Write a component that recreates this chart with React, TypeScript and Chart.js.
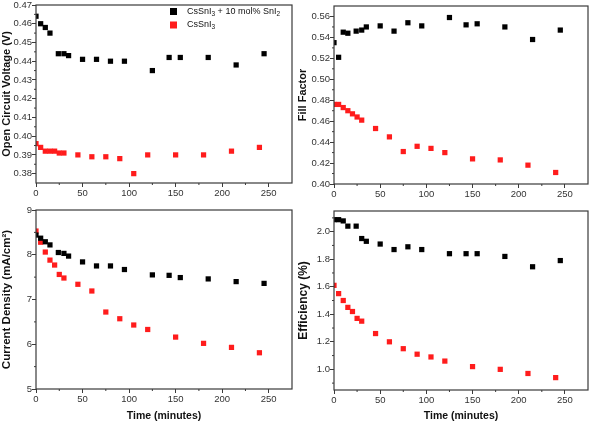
import React, { useEffect, useRef } from "react";
import { Chart, registerables } from "chart.js";

Chart.register(...registerables);

// ---------- data ----------
const timeBlack = [0, 5, 10, 15, 24, 30, 35, 50, 65, 80, 95, 125, 143, 155, 185, 215, 245];
const timeRed = [0, 5, 10, 15, 20, 25, 30, 45, 60, 75, 90, 105, 120, 150, 180, 210, 240];

const vocBlack = [0.464, 0.46, 0.458, 0.455, 0.444, 0.444, 0.443, 0.441, 0.441, 0.44, 0.44, 0.435, 0.442, 0.442, 0.442, 0.438, 0.444];
const vocRed = [0.396, 0.394, 0.392, 0.392, 0.392, 0.391, 0.391, 0.39, 0.389, 0.389, 0.388, 0.38, 0.39, 0.39, 0.39, 0.392, 0.394];

const ffBlack = [0.535, 0.521, 0.545, 0.544, 0.546, 0.547, 0.55, 0.551, 0.546, 0.554, 0.551, 0.559, 0.552, 0.553, 0.55, 0.538, 0.547];
const ffRed = [0.476, 0.476, 0.473, 0.47, 0.467, 0.464, 0.461, 0.453, 0.445, 0.431, 0.436, 0.434, 0.43, 0.424, 0.423, 0.418, 0.411];

const jscBlack = [8.44, 8.37, 8.29, 8.22, 8.05, 8.03, 7.97, 7.84, 7.75, 7.75, 7.67, 7.55, 7.54, 7.49, 7.46, 7.4, 7.36];
const jscRed = [8.53, 8.28, 8.06, 7.88, 7.77, 7.56, 7.48, 7.34, 7.19, 6.72, 6.57, 6.43, 6.33, 6.16, 6.02, 5.93, 5.81];

const effBlack = [2.087, 2.087, 2.078, 2.04, 2.04, 1.95, 1.93, 1.91, 1.87, 1.89, 1.87, 1.84, 1.84, 1.84, 1.82, 1.745, 1.79];
const effRed = [1.61, 1.55, 1.5, 1.45, 1.42, 1.37, 1.35, 1.26, 1.2, 1.15, 1.11, 1.09, 1.06, 1.02, 1.0, 0.97, 0.94];

const xTicks = [0, 50, 100, 150, 200, 250];
const vocTicks = [0.38, 0.39, 0.4, 0.41, 0.42, 0.43, 0.44, 0.45, 0.46, 0.47];
const ffTicks = [0.4, 0.42, 0.44, 0.46, 0.48, 0.5, 0.52, 0.54, 0.56];
const jscTicks = [5, 6, 7, 8, 9];
const effTicks = [1.0, 1.2, 1.4, 1.6, 1.8, 2.0];

// legend labels as [text, isSubscript] parts
const nameBlack: [string, boolean][] = [["CsSnI", false], ["3", true], [" + 10 mol% SnI", false], ["2", true]];
const nameRed: [string, boolean][] = [["CsSnI", false], ["3", true]];

const xTitle = "Time (minutes)";
const FONT = "'Liberation Sans', Arial, sans-serif";
const BLACK = "#000000";
const RED = "#ff1c1c";

function minors(ticks: number[]): number[] {
  const out: number[] = [];
  for (let i = 0; i < ticks.length - 1; i++) out.push((ticks[i] + ticks[i + 1]) / 2);
  if (ticks.length > 1) {
    const step = ticks[1] - ticks[0];
    out.push(ticks[0] - step / 2);
    out.push(ticks[ticks.length - 1] + step / 2);
  }
  return out;
}

const framePlugin = {
  id: "frame",
  afterDraw(chart: any) {
    const { ctx, chartArea: a, scales } = chart;
    const o = chart.options.plugins.frame || {};
    ctx.save();
    ctx.strokeStyle = "#3a3a3a";
    ctx.lineWidth = 1.2;
    ctx.strokeRect(a.left, a.top, a.right - a.left, a.bottom - a.top);
    ctx.lineWidth = 1;
    ctx.beginPath();
    for (const v of o.xMinor || []) {
      const px = scales.x.getPixelForValue(v);
      if (px <= a.left || px >= a.right) continue;
      ctx.moveTo(px, a.bottom);
      ctx.lineTo(px, a.bottom + 2);
    }
    for (const v of o.yMinor || []) {
      const py = scales.y.getPixelForValue(v);
      if (py <= a.top || py >= a.bottom) continue;
      ctx.moveTo(a.left, py);
      ctx.lineTo(a.left - 2, py);
    }
    ctx.stroke();
    ctx.restore();
  },
};

function drawRich(ctx: CanvasRenderingContext2D, parts: [string, boolean][], x: number, y: number) {
  let cx = x;
  for (const [t, sub] of parts) {
    ctx.font = sub ? `6.5px ${FONT}` : `9px ${FONT}`;
    ctx.fillText(t, cx, sub ? y + 2.5 : y);
    cx += ctx.measureText(t).width;
  }
}

const legendPlugin = {
  id: "myLegend",
  afterDraw(chart: any) {
    const o = chart.options.plugins.myLegend;
    if (!o || !o.show) return;
    const { ctx } = chart;
    ctx.save();
    ctx.textBaseline = "middle";
    ctx.textAlign = "left";
    const rows = [
      { color: BLACK, parts: nameBlack, y: 11.5 },
      { color: RED, parts: nameRed, y: 25 },
    ];
    for (const r of rows) {
      ctx.fillStyle = r.color;
      ctx.fillRect(170, r.y - 3.5, 7, 7);
      ctx.fillStyle = "#111";
      drawRich(ctx, r.parts, 187, r.y);
    }
    ctx.restore();
  },
};

type PanelProps = {
  left: number;
  top: number;
  width: number;
  height: number;
  padTop: number;
  padRight: number;
  yAxisW: number;
  xAxisH: number;
  yMin: number;
  yMax: number;
  yTicks: number[];
  decimals: number;
  yTitle: string;
  yTitleSize: number;
  showXTitle: boolean;
  black: number[];
  red: number[];
  legend?: boolean;
};

function Panel(p: PanelProps) {
  const ref = useRef<HTMLCanvasElement | null>(null);
  useEffect(() => {
    if (!ref.current) return;
    const chart = new Chart(ref.current, {
      type: "scatter",
      data: {
        datasets: [
          {
            label: "black",
            data: timeBlack.map((t, i) => ({ x: t, y: p.black[i] })),
            pointStyle: "rect",
            pointRadius: 3.7,
            pointBackgroundColor: BLACK,
            pointBorderWidth: 0,
            backgroundColor: BLACK,
            borderColor: BLACK,
            clip: 0,
          } as any,
          {
            label: "red",
            data: timeRed.map((t, i) => ({ x: t, y: p.red[i] })),
            pointStyle: "rect",
            pointRadius: 3.7,
            pointBackgroundColor: RED,
            pointBorderWidth: 0,
            backgroundColor: RED,
            borderColor: RED,
            clip: 0,
          } as any,
        ],
      },
      options: {
        animation: false,
        responsive: false,
        maintainAspectRatio: false,
        events: [],
        layout: { padding: { top: p.padTop, right: p.padRight, left: 0, bottom: 0 } },
        plugins: {
          legend: { display: false },
          tooltip: { enabled: false },
          frame: { xMinor: minors(xTicks), yMinor: minors(p.yTicks) },
          myLegend: { show: !!p.legend },
        } as any,
        scales: {
          x: {
            type: "linear",
            min: 0,
            max: 275,
            border: { display: false },
            grid: { display: true, drawOnChartArea: false, drawTicks: true, tickLength: 4, color: "#3a3a3a", tickColor: "#3a3a3a" },
            ticks: {
              color: "#333",
              font: { family: FONT, size: 9.5 },
              padding: 1,
              maxRotation: 0,
              callback: (v: any) => String(v),
            },
            title: {
              display: p.showXTitle,
              text: xTitle,
              color: "#111",
              font: { family: FONT, size: 10.5, weight: "bold" },
              padding: { top: 0, bottom: 1 },
            },
            afterBuildTicks: (s: any) => {
              s.ticks = xTicks.map((v) => ({ value: v }));
            },
            afterFit: (s: any) => {
              s.height = p.xAxisH;
              s.paddingLeft = 0;
              s.paddingRight = 0;
            },
          },
          y: {
            type: "linear",
            min: p.yMin,
            max: p.yMax,
            border: { display: false },
            grid: { display: true, drawOnChartArea: false, drawTicks: true, tickLength: 4, color: "#3a3a3a", tickColor: "#3a3a3a" },
            ticks: {
              color: "#333",
              font: { family: FONT, size: 9.5 },
              padding: 0,
              callback: (v: any) => Number(v).toFixed(p.decimals),
            },
            title: {
              display: true,
              text: p.yTitle,
              color: "#111",
              font: { family: FONT, size: p.yTitleSize, weight: "bold" },
              padding: { top: 0, bottom: 0 },
            },
            afterBuildTicks: (s: any) => {
              s.ticks = p.yTicks.map((v) => ({ value: v }));
            },
            afterFit: (s: any) => {
              s.width = p.yAxisW;
              s.paddingTop = 0;
              s.paddingBottom = 0;
            },
          },
        },
      } as any,
      plugins: [framePlugin, legendPlugin],
    });
    return () => chart.destroy();
  }, []);
  return (
    <canvas
      ref={ref}
      width={p.width}
      height={p.height}
      style={{ position: "absolute", left: p.left, top: p.top, width: p.width, height: p.height, display: "block" }}
    />
  );
}

export default function App() {
  return (
    <div style={{ position: "absolute", left: 0, top: 0, width: 592, height: 423, background: "#fff", overflow: "hidden" }}>
      <Panel
        left={0} top={0} width={296} height={200}
        padTop={5} padRight={3} yAxisW={36} xAxisH={17}
        yMin={0.375} yMax={0.47} yTicks={vocTicks} decimals={2}
        yTitle="Open Circuit Voltage (V)" yTitleSize={11} showXTitle={false}
        black={vocBlack} red={vocRed} legend
      />
      <Panel
        left={296} top={0} width={296} height={200}
        padTop={6} padRight={2} yAxisW={38} xAxisH={16}
        yMin={0.4} yMax={0.57} yTicks={ffTicks} decimals={2}
        yTitle="Fill Factor" yTitleSize={11} showXTitle={false}
        black={ffBlack} red={ffRed}
      />
      <Panel
        left={0} top={200} width={296} height={223}
        padTop={10} padRight={3} yAxisW={36} xAxisH={34}
        yMin={5} yMax={9} yTicks={jscTicks} decimals={0}
        yTitle="Current Density (mA/cm²)" yTitleSize={11.5} showXTitle
        black={jscBlack} red={jscRed}
      />
      <Panel
        left={296} top={200} width={296} height={223}
        padTop={11} padRight={2} yAxisW={38} xAxisH={33}
        yMin={0.85} yMax={2.15} yTicks={effTicks} decimals={1}
        yTitle="Efficiency (%)" yTitleSize={12} showXTitle
        black={effBlack} red={effRed}
      />
    </div>
  );
}
